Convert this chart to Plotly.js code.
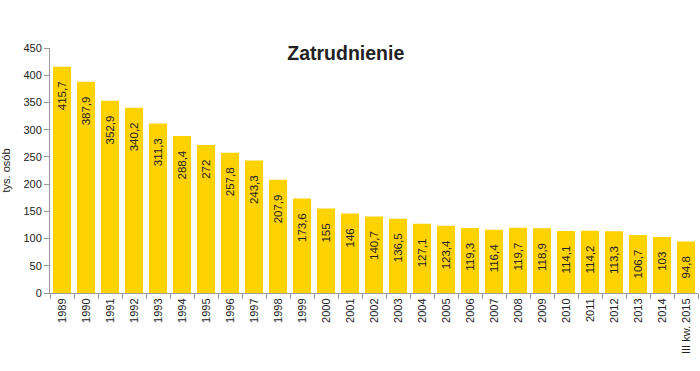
<!DOCTYPE html>
<html><head><meta charset="utf-8">
<script src="https://cdn.plot.ly/plotly-3.0.1.min.js"></script>
<style>html,body{margin:0;padding:0;background:#fff}#chart{width:700px;height:371px}</style>
</head><body><div id="chart"></div>
<script>
const years = ["1989","1990","1991","1992","1993","1994","1995","1996","1997","1998","1999","2000","2001","2002","2003","2004","2005","2006","2007","2008","2009","2010","2011","2012","2013","2014","III kw. 2015"];
const employment = [415.7,387.9,352.9,340.2,311.3,288.4,272,257.8,243.3,207.9,173.6,155,146,140.7,136.5,127.1,123.4,119.3,116.4,119.7,118.9,114.1,114.2,113.3,106.7,103,94.8];
const labels = employment.map(v => String(v).replace('.', ',') + '<span style="color:rgba(0,0,0,0)">xx</span>');

Plotly.newPlot('chart', [{
  type: 'bar', x: years, y: employment, text: labels,
  textposition: 'inside', insidetextanchor: 'end', textangle: -90,
  textfont: {family: 'Liberation Sans, Arial, sans-serif', size: 11.5, color: '#222'},
  marker: {color: '#FFD200'}, cliponaxis: false, hoverinfo: 'none'
}], {
  width: 700, height: 371,
  margin: {l: 50, r: 2, t: 48, b: 78},
  bargap: 0.25,
  paper_bgcolor: '#fff', plot_bgcolor: '#fff',
  font: {family: 'Liberation Sans, Arial, sans-serif', size: 11, color: '#222'},
  title: {text: '<b>Zatrudnienie</b>', x: 0.494, xanchor: 'center', y: 0.857, yanchor: 'middle',
          font: {size: 19.5, color: '#222'}},
  xaxis: {type: 'category', tickangle: -90, showgrid: false, showline: true, linecolor: '#999',
          ticks: 'outside', tickson: 'boundaries', ticklen: 5, tickcolor: '#999',
          tickfont: {size: 11, color: '#222'}, fixedrange: true},
  yaxis: {range: [0, 450], dtick: 50, showgrid: false, showline: true, linecolor: '#999',
          ticks: 'outside', ticklen: 5, tickcolor: '#999', zeroline: false,
          title: {text: 'tys. osób', font: {size: 11, color: '#222'}, standoff: 12},
          tickfont: {size: 11, color: '#222'}, fixedrange: true},
  showlegend: false
}, {displayModeBar: false, staticPlot: true});
</script></body></html>
